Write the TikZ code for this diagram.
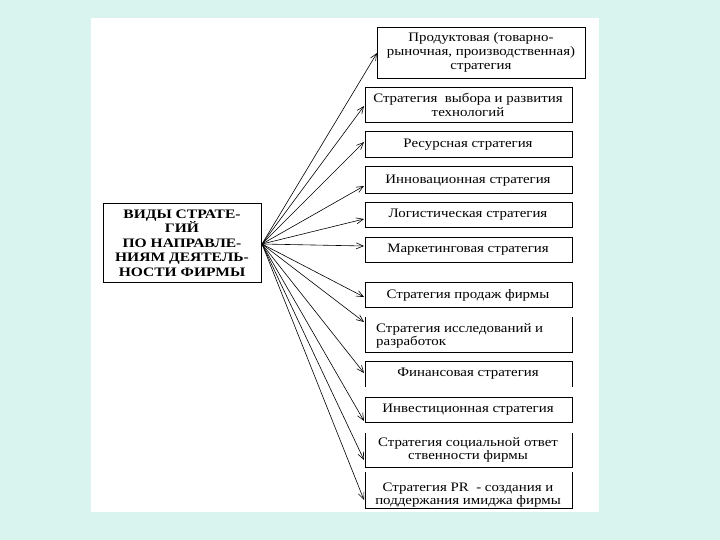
\documentclass[tikz,border=0pt]{standalone}
\usepackage{fontspec}
\setmainfont{Liberation Serif}
\newfontfamily\widefont[FakeStretch=1.15]{Liberation Serif}
\newfontfamily\widebold[FakeStretch=1.2]{Liberation Serif Bold}
\usetikzlibrary{arrows.meta}
\definecolor{bgcyan}{HTML}{D9F3EF}
\tikzset{
  txt/.style={inner sep=0pt, font=\widefont\fontsize{13}{13.8}\selectfont, align=center},
  maintxt/.style={inner sep=0pt, font=\widebold\fontsize{13}{14.6}\selectfont, align=center},
  frame/.style={draw=black, line width=0.8bp},
  conn/.style={line width=0.6bp, -{Straight Barb[length=7bp,width=6bp]}},
}
\begin{document}
\begin{tikzpicture}[x=1bp,y=-1bp]
\useasboundingbox (0,0) rectangle (720,540);
\fill[bgcyan] (0,0) rectangle (720,540);
\fill[white] (91,18) rectangle (599,512);

% main box
\draw[frame] (103,203) rectangle (261,282);
\node[maintxt] (main) at (182,243) {ВИДЫ СТРАТЕ-\\ГИЙ\\ПО НАПРАВЛЕ-\\НИЯМ ДЕЯТЕЛЬ-\\НОСТИ ФИРМЫ};
\coordinate (o) at (262,244);

% right boxes (full frames)
\draw[frame] (377,27) rectangle (585,78);
\node[txt] (b1) at (481,52.5) {Продуктовая (товарно-\\рыночная, производственная)\\стратегия};
\draw[frame] (365,87) rectangle (572,122);
\node[txt] (b2) at (468,105) {Стратегия\ \ выбора и развития\\технологий};
\draw[frame] (365,131) rectangle (572,157);
\node[txt] (b3) at (468,144.5) {Ресурсная стратегия};
\draw[frame] (365,166) rectangle (572,193);
\node[txt] (b4) at (468,180.5) {Инновационная стратегия};
\draw[frame] (365,202) rectangle (572,227);
\node[txt] (b5) at (468,214.5) {Логистическая стратегия};
\draw[frame] (365,237) rectangle (572,262);
\node[txt] (b6) at (468,249.5) {Маркетинговая стратегия};
\draw[frame] (365,282) rectangle (572,307);
\node[txt] (b7) at (468,295.5) {Стратегия продаж фирмы};
% research: no top edge
\draw[frame] (365,317) -- (365,352) -- (572,352) -- (572,317);
\node[txt, anchor=west, align=left] (b8) at (376,336) {Стратегия исследований и\\разработок};
% financial: no bottom edge
\draw[frame] (365,387) -- (365,361) -- (572,361) -- (572,387);
\node[txt] (b9) at (468,373.5) {Финансовая стратегия};
\draw[frame] (365,397) rectangle (572,422);
\node[txt] (b10) at (468,409.5) {Инвестиционная стратегия};
% social: no top edge
\draw[frame] (365,433) -- (365,467) -- (572,467) -- (572,433);
\node[txt] (b11) at (468,450) {Стратегия социальной ответ\\ственности фирмы};
% PR: no top edge
\draw[frame] (365,472) -- (365,508) -- (572,508) -- (572,472);
\node[txt] (b12) at (468,495) {Стратегия PR\ \ - создания и\\поддержания имиджа фирмы};

% arrow ends
\coordinate (t1) at (377,53);
\coordinate (t2) at (364,106);
\coordinate (t3) at (364,142);
\coordinate (t4) at (364,186);
\coordinate (t5) at (364,219);
\coordinate (t6) at (364,246);
\coordinate (t7) at (364,297);
\coordinate (t8) at (364,322);
\coordinate (t9) at (364,373);
\coordinate (t10) at (364,421);
\coordinate (t11) at (364,460);
\coordinate (t12) at (364,500);
\foreach \i in {1,...,12} \draw[conn] (o) -- (t\i);
\end{tikzpicture}
\end{document}
